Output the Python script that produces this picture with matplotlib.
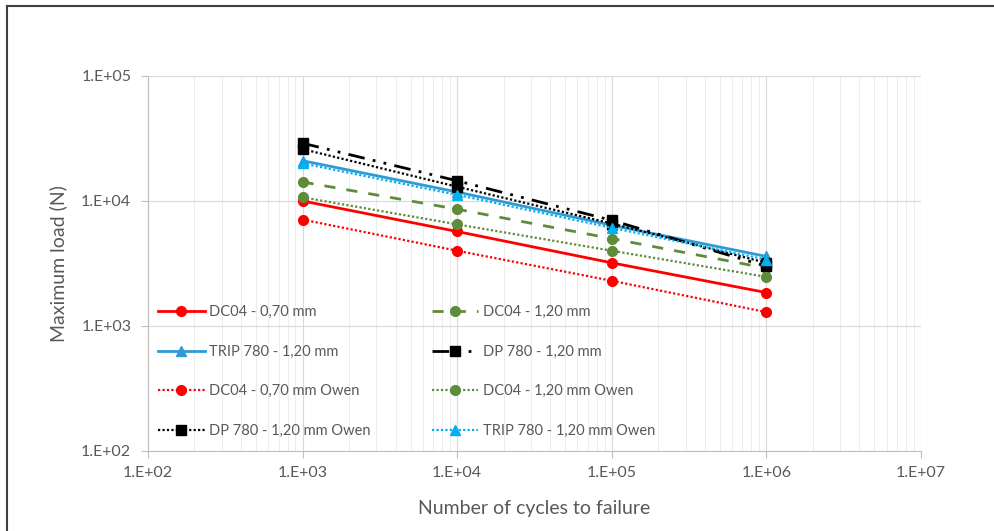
import matplotlib.pyplot as plt
from matplotlib.lines import Line2D
from matplotlib.ticker import FixedLocator, LogLocator, NullFormatter

plt.rcParams['font.family'] = ['Lato', 'DejaVu Sans']

cycles = [1e3, 1e4, 1e5, 1e6]

dc04_070 = [1.0e4, 5.7e3, 3.2e3, 1.85e3]
dc04_120 = [1.42e4, 8.6e3, 5.0e3, 2.9e3]
trip_780 = [2.1e4, 1.18e4, 6.4e3, 3.6e3]
dp_780 = [2.9e4, 1.45e4, 7.0e3, 3.0e3]
dc04_070_owen = [7.1e3, 4.0e3, 2.3e3, 1.29e3]
dc04_120_owen = [1.07e4, 6.5e3, 4.0e3, 2.47e3]
dp_780_owen = [2.6e4, 1.3e4, 6.6e3, 3.2e3]
trip_780_owen = [2.0e4, 1.12e4, 6.1e3, 3.4e3]

x_ticks = [1e2, 1e3, 1e4, 1e5, 1e6, 1e7]
y_ticks = [1e2, 1e3, 1e4, 1e5]
tick_labels_x = ['1.E+02', '1.E+03', '1.E+04', '1.E+05', '1.E+06', '1.E+07']
tick_labels_y = ['1.E+02', '1.E+03', '1.E+04', '1.E+05']

red = '#FF0000'
green = '#5E8C3A'
blue = '#2E9BD6'
lightblue = '#00B0F0'
grey_txt = '#595959'

fig = plt.figure(figsize=(9.95, 5.31), dpi=100)
ax = fig.add_axes([0.1487, 0.1507, 0.7769, 0.7062])

lw = 2.0
ms = 7
l1, = ax.plot(cycles, dc04_070, color=red, lw=lw, marker='o', ms=ms, label='DC04 - 0,70 mm')
l2, = ax.plot(cycles, dc04_120, color=green, lw=lw, ls=(0, (4, 4)), marker='o', ms=ms,
              label='DC04 - 1,20 mm')
l3, = ax.plot(cycles, trip_780, color=blue, lw=lw, marker='^', ms=ms, label='TRIP 780 - 1,20 mm')
l4, = ax.plot(cycles, dp_780, color='black', lw=lw, ls=(0, (6, 3, 1, 3, 1, 3)), marker='s', ms=ms,
              label='DP 780 - 1,20 mm')
l5, = ax.plot(cycles, dc04_070_owen, color=red, lw=1.6, ls=(0, (1, 1)), marker='o', ms=ms,
              label='DC04 - 0,70 mm Owen')
l6, = ax.plot(cycles, dc04_120_owen, color=green, lw=1.6, ls=(0, (1, 1)), marker='o', ms=ms,
              label='DC04 - 1,20 mm Owen')
l7, = ax.plot(cycles, dp_780_owen, color='black', lw=1.6, ls=(0, (1, 1)), marker='s', ms=ms,
              label='DP 780 - 1,20 mm Owen')
l8, = ax.plot(cycles, trip_780_owen, color=lightblue, lw=1.6, ls=(0, (1, 1)), marker='^', ms=ms,
              label='TRIP 780 - 1,20 mm Owen')

ax.set_xscale('log')
ax.set_yscale('log')
ax.set_xlim(1e2, 1e7)
ax.set_ylim(1e2, 1e5)

ax.xaxis.set_major_locator(FixedLocator(x_ticks))
ax.set_xticklabels(tick_labels_x)
ax.xaxis.set_minor_locator(LogLocator(base=10, subs=range(2, 10)))
ax.xaxis.set_minor_formatter(NullFormatter())
ax.yaxis.set_major_locator(FixedLocator(y_ticks))
ax.set_yticklabels(tick_labels_y)
ax.yaxis.set_minor_locator(FixedLocator([]))

ax.grid(True, which='major', axis='both', color='#D9D9D9', lw=0.8)
ax.grid(True, which='minor', axis='x', color='#EDEDED', lw=0.8)
ax.set_axisbelow(True)

for s in ['top', 'right']:
    ax.spines[s].set_visible(False)
for s in ['left', 'bottom']:
    ax.spines[s].set_color('#BFBFBF')
    ax.spines[s].set_linewidth(0.8)

ax.tick_params(axis='both', which='major', colors='#BFBFBF', labelcolor=grey_txt,
               labelsize=11.5, length=5, width=0.8)
ax.tick_params(axis='both', which='minor', length=0)
ax.tick_params(axis='x', pad=6)
ax.tick_params(axis='y', pad=7)

ax.set_xlabel('Number of cycles to failure', fontsize=14, color=grey_txt, labelpad=14)
ax.set_ylabel('Maximum load (N)', fontsize=14, color=grey_txt, labelpad=10)

# legend fills row by row in the source, so order handles column-wise here
order = [l1, l3, l5, l7, l2, l4, l6, l8]
leg = ax.legend(order, [h.get_label() for h in order], ncol=2, loc='lower left',
                bbox_to_anchor=(-0.004, 0.0), frameon=False, fontsize=10.5,
                labelcolor=grey_txt, handlelength=3.2, labelspacing=1.75,
                columnspacing=4.2, handletextpad=0.3)

# outer border like the source screenshot
fig.add_artist(Line2D([7 / 995, 7 / 995], [0, 1 - 6 / 531], transform=fig.transFigure,
                      color='#404040', lw=1.5))
fig.add_artist(Line2D([7 / 995, 1], [1 - 6 / 531, 1 - 6 / 531], transform=fig.transFigure,
                      color='#404040', lw=1.5))

fig.savefig('out.png', dpi=100)
